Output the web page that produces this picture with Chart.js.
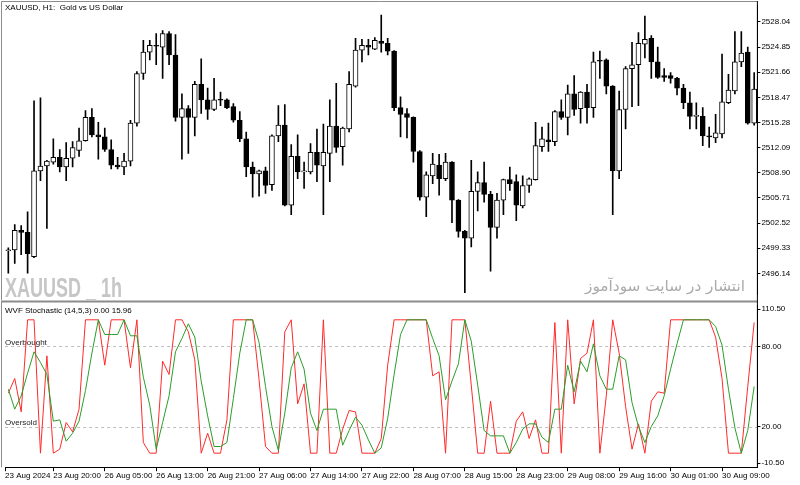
<!DOCTYPE html>
<html>
<head>
<meta charset="utf-8">
<script src="https://cdn.jsdelivr.net/npm/chart.js@4.4.1/dist/chart.umd.min.js"></script>
<style>
  body { margin: 0; background: #fff; }
  #wrap { position: relative; width: 800px; height: 485px; }
  #price { position: absolute; left: 0; top: 0; }
  #osc { position: absolute; left: 0; top: 300px; }
</style>
</head>
<body>
<div id="wrap">
  <canvas id="price" width="800" height="300"></canvas>
  <canvas id="osc" width="800" height="185"></canvas>
</div>
<script>
// trading sessions shown (day, first hour, last hour)
const sessions = [['23 Aug', 13, 23], ['26 Aug', 1, 23], ['27 Aug', 1, 23], ['28 Aug', 1, 23], ['29 Aug', 1, 23], ['30 Aug', 1, 14]];
const times = [];
sessions.forEach(([d, h0, h1]) => {
    for (let h = h0; h <= h1; h++) times.push(d + ' ' + String(h).padStart(2, '0') + ':00');
});

const open = [
    2499.00, 2499.12, 2501.59, 2501.34, 2498.25, 2509.13, 2509.75, 2510.24, 2510.86, 2509.63,
    2510.74, 2511.73, 2512.96, 2515.93, 2513.70, 2513.46, 2511.85, 2509.87, 2509.63, 2510.37,
    2515.19, 2521.49, 2524.21, 2525.08, 2524.83, 2526.56, 2523.84, 2515.93, 2517.04, 2515.93,
    2520.13, 2518.15, 2516.92, 2518.15, 2518.15, 2517.29, 2515.56, 2513.21, 2509.63, 2508.76,
    2509.13, 2507.40, 2513.58, 2514.94, 2504.80, 2510.98, 2509.01, 2509.01, 2511.48, 2509.75,
    2511.36, 2514.82, 2512.22, 2514.45, 2519.88, 2524.46, 2525.08, 2524.58, 2525.57, 2525.32,
    2524.33, 2517.16, 2516.42, 2515.93, 2511.60, 2505.79, 2508.51, 2509.87, 2508.14, 2510.24,
    2505.42, 2501.47, 2500.60, 2506.54, 2507.65, 2506.16, 2501.96, 2505.42, 2508.02, 2507.77,
    2504.68, 2507.28, 2508.02, 2512.22, 2513.09, 2512.84, 2516.67, 2515.93, 2518.90, 2517.04,
    2519.14, 2517.16, 2523.10, 2523.22, 2519.88, 2509.13, 2516.92, 2522.11, 2522.60, 2525.20,
    2525.94, 2522.97, 2521.24, 2521.24, 2520.87, 2519.64, 2517.78, 2516.05, 2516.05, 2513.58,
    2513.33, 2513.83, 2517.78, 2519.27, 2522.97, 2524.21, 2515.19
];
const high = [
    2499.37, 2502.33, 2502.21, 2503.94, 2518.03, 2518.40, 2510.49, 2513.21, 2511.85, 2512.72,
    2512.84, 2514.57, 2516.79, 2517.04, 2515.31, 2514.57, 2513.09, 2510.86, 2511.36, 2515.56,
    2521.74, 2525.69, 2525.69, 2526.56, 2526.93, 2526.81, 2526.43, 2518.90, 2517.41, 2520.50,
    2523.34, 2519.64, 2520.87, 2519.14, 2518.28, 2517.66, 2516.67, 2514.07, 2510.24, 2509.25,
    2509.63, 2513.70, 2517.41, 2517.54, 2512.47, 2513.70, 2510.24, 2512.59, 2514.45, 2515.06,
    2518.15, 2520.25, 2514.70, 2521.74, 2525.94, 2525.82, 2525.82, 2526.06, 2528.91, 2525.94,
    2524.40, 2518.52, 2517.04, 2516.00, 2511.70, 2509.01, 2511.36, 2511.23, 2511.36, 2510.30,
    2505.50, 2501.59, 2510.49, 2509.01, 2510.24, 2506.54, 2506.29, 2508.10, 2509.63, 2508.64,
    2508.51, 2508.26, 2515.31, 2514.69, 2515.19, 2516.79, 2518.15, 2520.01, 2521.24, 2519.20,
    2520.13, 2524.21, 2524.33, 2523.34, 2519.95, 2519.27, 2522.36, 2525.45, 2526.68, 2528.78,
    2526.31, 2524.83, 2522.11, 2521.61, 2521.00, 2520.13, 2519.14, 2517.78, 2517.16, 2514.69,
    2516.30, 2523.96, 2521.37, 2526.81, 2526.81, 2524.83, 2521.61
];
const low = [
    2496.15, 2497.39, 2498.50, 2496.15, 2498.13, 2507.89, 2501.84, 2510.00, 2509.01, 2507.89,
    2509.63, 2510.98, 2512.90, 2513.46, 2510.61, 2511.60, 2509.38, 2509.38, 2508.64, 2509.75,
    2514.82, 2520.75, 2523.22, 2522.60, 2520.87, 2522.60, 2515.43, 2510.61, 2511.36, 2513.58,
    2516.42, 2515.68, 2516.79, 2517.41, 2517.04, 2515.31, 2512.84, 2508.39, 2505.79, 2505.92,
    2506.29, 2506.66, 2512.84, 2504.68, 2503.57, 2508.14, 2506.91, 2508.76, 2507.77, 2503.57,
    2507.77, 2511.48, 2509.87, 2514.07, 2519.76, 2522.97, 2523.84, 2524.50, 2524.21, 2523.84,
    2516.79, 2513.46, 2513.33, 2510.24, 2505.42, 2503.32, 2507.52, 2506.04, 2507.89, 2502.58,
    2500.73, 2493.68, 2499.49, 2504.06, 2505.18, 2496.40, 2500.60, 2503.57, 2506.66, 2502.83,
    2504.43, 2506.41, 2507.95, 2511.60, 2511.60, 2512.34, 2515.68, 2513.70, 2516.18, 2515.19,
    2515.19, 2515.93, 2520.87, 2518.90, 2503.57, 2508.14, 2514.45, 2517.29, 2517.41, 2523.47,
    2520.87, 2520.87, 2520.50, 2520.25, 2518.77, 2517.04, 2514.45, 2514.45, 2512.34, 2512.10,
    2512.72, 2513.33, 2517.66, 2518.90, 2522.36, 2515.06, 2514.94
];
const close = [
    2499.05, 2501.59, 2501.34, 2498.62, 2509.13, 2509.75, 2510.37, 2510.86, 2509.63, 2510.74,
    2512.10, 2512.96, 2515.93, 2513.70, 2513.46, 2511.85, 2509.87, 2509.63, 2510.37, 2515.19,
    2521.49, 2524.21, 2525.08, 2524.95, 2526.56, 2523.84, 2515.93, 2517.04, 2515.93, 2520.13,
    2518.15, 2516.92, 2518.15, 2518.10, 2517.16, 2515.56, 2513.21, 2509.63, 2508.76, 2509.13,
    2507.28, 2513.58, 2514.94, 2504.80, 2510.98, 2509.01, 2509.05, 2511.48, 2509.87, 2511.48,
    2514.82, 2512.10, 2514.57, 2520.13, 2524.46, 2525.08, 2524.83, 2525.69, 2525.32, 2524.33,
    2517.16, 2516.30, 2515.93, 2511.60, 2505.79, 2508.64, 2510.00, 2508.14, 2510.24, 2505.42,
    2501.47, 2500.60, 2506.54, 2507.65, 2506.16, 2501.96, 2505.42, 2508.02, 2507.52, 2504.80,
    2507.28, 2508.14, 2512.34, 2513.21, 2512.84, 2516.67, 2515.93, 2518.90, 2516.92, 2519.14,
    2517.16, 2522.97, 2523.05, 2519.88, 2509.13, 2516.92, 2522.11, 2522.60, 2525.32, 2525.82,
    2522.97, 2521.00, 2521.00, 2520.87, 2519.64, 2517.78, 2516.05, 2516.10, 2513.58, 2513.46,
    2513.95, 2517.91, 2519.39, 2522.97, 2524.09, 2515.19, 2519.51
];

// WVF stochastic main line (red) and signal (green)
const wvfMain = [
    45, 56, 31, 100, 100, 0, 73, 0, 3, 23,
    16, 33, 100, 100, 100, 66, 100, 100, 100, 64,
    100, 8, 0, 0, 69, 59, 100, 100, 91, 70,
    0, 15, 0, 0, 25, 100, 100, 100, 100, 55,
    5, 0, 0, 91, 100, 37, 52, 0, 0, 100,
    0, 0, 18, 32, 31, 0, 0, 0, 11, 66,
    100, 100, 100, 100, 100, 100, 58, 61, 0, 100,
    100, 100, 51, 0, 0, 39, 0, 0, 0, 24,
    31, 11, 25, 0, 0, 98, 0, 100, 37, 71,
    75, 100, 0, 43, 100, 75, 35, 3, 22, 0,
    39, 46, 45, 100, 100, 100, 100, 100, 100, 100,
    87, 56, 0, 0, 0, 50, 98
];
const wvfSignal = [
    48, 33, 43, 60, 76, 68, 59, 24, 25, 9,
    15, 24, 47, 75, 100, 89, 89, 89, 100, 88,
    88, 57, 36, 3, 23, 43, 76, 86, 97, 87,
    54, 28, 5, 5, 8, 41, 75, 100, 100, 83,
    50, 20, 2, 30, 64, 76, 63, 30, 17, 33,
    33, 33, 6, 17, 27, 21, 10, 0, 4, 26,
    59, 89, 100, 100, 100, 100, 86, 73, 40, 54,
    67, 100, 84, 51, 17, 13, 13, 13, 0, 8,
    18, 22, 22, 12, 8, 33, 33, 66, 46, 69,
    61, 82, 58, 48, 48, 73, 70, 38, 20, 8,
    20, 28, 43, 63, 82, 100, 100, 100, 100, 100,
    95, 81, 48, 19, 0, 17, 50
];

const priceTicks = [2528.04, 2524.85, 2521.66, 2518.47, 2515.28, 2512.09, 2508.90, 2505.71, 2502.52, 2499.33, 2496.14];
const oscTicks = [110.5, 80, 20, -10.5];
const levels = [80, 20];
const levelNames = ['Overbought', 'Oversold'];
const xTickLabels = ['23 Aug 2024', '23 Aug 20:00', '26 Aug 05:00', '26 Aug 13:00', '26 Aug 21:00', '27 Aug 06:00',
    '27 Aug 14:00', '27 Aug 22:00', '28 Aug 07:00', '28 Aug 15:00', '28 Aug 23:00', '29 Aug 08:00',
    '29 Aug 16:00', '30 Aug 01:00', '30 Aug 09:00'];

const chartTitle = 'XAUUSD, H1:  Gold vs US Dollar';
const oscTitle = 'WVF Stochastic (14,5,3) 0.00 15.96';
const watermark = 'XAUUSD _ 1h';
const siteText = 'انتشار در سایت سودآموز';

const FONT = '"Liberation Sans", Arial, sans-serif';
const AXIS_W = 42.6;
const LEFT = 5.1;

// first label sits on the left edge, the rest on their bar
const xTickPos = xTickLabels.map(l => {
    const i = times.indexOf(l);
    return i < 0 ? -0.5 : i;
});

const bodyColors = open.map((o, i) => close[i] >= o ? '#ffffff' : '#000000');

function fixWidth(s) { s.width = AXIS_W; }

const priceDecor = {
    id: 'priceDecor',
    beforeDatasetsDraw(chart) {
        const ctx = chart.ctx;
        ctx.save();
        // watermark
        ctx.fillStyle = '#c6c6c6';
        ctx.font = 'bold 27px ' + FONT;
        ctx.textAlign = 'left';
        ctx.textBaseline = 'alphabetic';
        let w = ctx.measureText(watermark).width;
        ctx.translate(5, 296.5);
        ctx.scale(117 / w, 1);
        ctx.fillText(watermark, 0, 0);
        ctx.restore();

        ctx.save();
        ctx.fillStyle = '#ababab';
        ctx.font = '15px "DejaVu Sans", "Noto Sans", sans-serif';
        ctx.textAlign = 'right';
        ctx.textBaseline = 'alphabetic';
        w = ctx.measureText(siteText).width;
        ctx.translate(745, 291);
        ctx.scale(160 / w, 1);
        ctx.fillText(siteText, 0, 0);
        ctx.restore();
    },
    afterDraw(chart) {
        const ctx = chart.ctx;
        const a = chart.chartArea;
        ctx.save();
        ctx.strokeStyle = '#8c8c8c';
        ctx.lineWidth = 1;
        ctx.beginPath();
        ctx.moveTo(1.5, 1.5); ctx.lineTo(a.right, 1.5);
        ctx.moveTo(1.5, 1.5); ctx.lineTo(1.5, 300);
        ctx.stroke();
        ctx.strokeStyle = '#000';
        ctx.beginPath();
        ctx.moveTo(a.right, 1); ctx.lineTo(a.right, 300);
        ctx.stroke();
        ctx.fillStyle = '#000';
        ctx.font = '8px ' + FONT;
        ctx.textAlign = 'left';
        ctx.textBaseline = 'middle';
        ctx.fillText(chartTitle, 5, 8);
        ctx.restore();
    }
};

const oscDecor = {
    id: 'oscDecor',
    beforeDatasetsDraw(chart) {
        const ctx = chart.ctx;
        const a = chart.chartArea;
        const y = chart.scales.y;
        ctx.save();
        ctx.strokeStyle = '#bdbdbd';
        ctx.lineWidth = 1;
        ctx.setLineDash([3, 3]);
        levels.forEach(v => {
            const py = Math.round(y.getPixelForValue(v)) + 0.5;
            ctx.beginPath();
            ctx.moveTo(a.left, py); ctx.lineTo(a.right, py);
            ctx.stroke();
        });
        ctx.setLineDash([]);
        ctx.fillStyle = '#222';
        ctx.font = '8px ' + FONT;
        ctx.textAlign = 'left';
        ctx.textBaseline = 'alphabetic';
        levels.forEach((v, k) => {
            ctx.fillText(levelNames[k], 5, y.getPixelForValue(v) - 1.5);
        });
        ctx.restore();
    },
    afterDraw(chart) {
        const ctx = chart.ctx;
        const a = chart.chartArea;
        ctx.save();
        // pane separator
        ctx.strokeStyle = '#8c8c8c';
        ctx.lineWidth = 2;
        ctx.beginPath();
        ctx.moveTo(1, 1.5); ctx.lineTo(a.right, 1.5);
        ctx.stroke();
        ctx.lineWidth = 1;
        ctx.beginPath();
        ctx.moveTo(1.5, 1.5); ctx.lineTo(1.5, a.bottom);
        ctx.stroke();
        ctx.strokeStyle = '#000';
        ctx.beginPath();
        ctx.moveTo(a.right, 0); ctx.lineTo(a.right, a.bottom);
        ctx.stroke();
        ctx.fillStyle = '#000';
        ctx.font = '8px ' + FONT;
        ctx.textAlign = 'left';
        ctx.textBaseline = 'middle';
        ctx.fillText(oscTitle, 5, 10.5);
        ctx.restore();
    }
};

new Chart(document.getElementById('price'), {
    type: 'bar',
    data: {
        labels: times,
        datasets: [
            {
                label: 'wick',
                data: low.map((l, i) => [l, high[i]]),
                backgroundColor: '#000',
                barThickness: 1,
                grouped: false,
                order: 2
            },
            {
                label: 'body',
                data: open.map((o, i) => [o, close[i]]),
                backgroundColor: bodyColors,
                borderColor: '#000',
                borderWidth: 1,
                borderSkipped: false,
                barThickness: 5,
                minBarLength: 1,
                grouped: false,
                order: 1
            }
        ]
    },
    options: {
        responsive: false,
        animation: false,
        devicePixelRatio: 1,
        layout: { padding: { left: LEFT, top: 2.5, bottom: 1.5, right: 0 } },
        plugins: { legend: { display: false }, tooltip: { enabled: false } },
        scales: {
            x: { display: false, offset: true, grid: { display: false } },
            y: {
                position: 'right',
                min: 2493.49,
                max: 2530.08,
                afterFit: fixWidth,
                afterBuildTicks: s => { s.ticks = priceTicks.map(v => ({ value: v })); },
                ticks: { callback: v => v.toFixed(2), color: '#000', font: { family: FONT, size: 8 }, padding: 1 },
                grid: { drawOnChartArea: false, drawTicks: true, tickLength: 3, color: '#000' },
                border: { display: true, color: '#000' }
            }
        }
    },
    plugins: [priceDecor]
});

new Chart(document.getElementById('osc'), {
    type: 'line',
    data: {
        labels: times,
        datasets: [
            { label: 'signal', data: wvfSignal, borderColor: '#2a9e2a', borderWidth: 1, pointRadius: 0, tension: 0, order: 1 },
            { label: 'main', data: wvfMain, borderColor: '#ff2a2a', borderWidth: 1, pointRadius: 0, tension: 0, order: 2 }
        ]
    },
    options: {
        responsive: false,
        animation: false,
        devicePixelRatio: 1,
        layout: { padding: { left: LEFT, top: 3.8, bottom: 0, right: 0 } },
        plugins: { legend: { display: false }, tooltip: { enabled: false } },
        scales: {
            x: {
                offset: true,
                afterFit: s => { s.height = 17.8; },
                afterBuildTicks: s => { s.ticks = xTickPos.map(v => ({ value: v })); },
                ticks: {
                    autoSkip: false, maxRotation: 0, align: 'start', padding: 0,
                    callback: (v, i) => xTickLabels[i],
                    color: '#000', font: { family: FONT, size: 8 }
                },
                grid: { drawOnChartArea: false, drawTicks: true, tickLength: 4, color: '#000' },
                border: { display: true, color: '#000' }
            },
            y: {
                position: 'right',
                min: -10.5,
                max: 110.5,
                afterFit: fixWidth,
                // MT4 draws the min/max labels a little inside the pane
                afterBuildTicks: s => {
                    s.ticks = oscTicks.map(v => ({ value: v === s.max ? v - 2.6 : (v === s.min ? v + 3.1 : v) }));
                },
                ticks: { callback: (v, i) => oscTicks[i].toFixed(2), color: '#000', font: { family: FONT, size: 8 }, padding: 1 },
                grid: { drawOnChartArea: false, drawTicks: true, tickLength: 3, color: '#000' },
                border: { display: true, color: '#000' }
            }
        }
    },
    plugins: [oscDecor]
});
</script>
</body>
</html>
